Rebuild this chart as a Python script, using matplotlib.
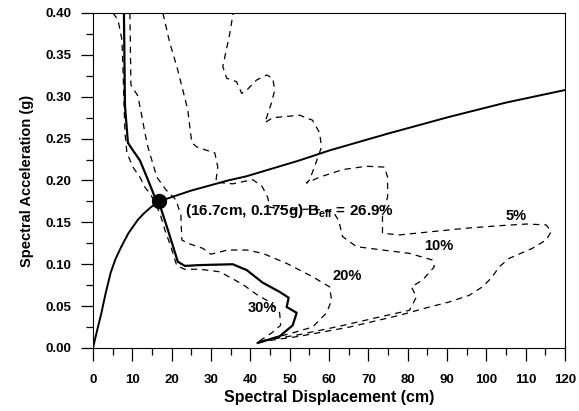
import matplotlib
matplotlib.use("Agg")
import matplotlib.pyplot as plt
from matplotlib.ticker import MultipleLocator

plt.rcParams['font.family'] = ['Liberation Sans', 'DejaVu Sans']
plt.rcParams['font.weight'] = 'bold'

# capacity spectrum (cm, g)
cap_d = [0, 1.0, 2.1, 3.2, 4.5, 5.7, 7.1, 9.0, 11.4, 13.0, 14.7, 16.7, 25.0, 34.3, 39.0, 52.5, 60.2, 75.0, 90.6, 105.0, 120.0]
cap_a = [0, 0.020, 0.041, 0.065, 0.090, 0.106, 0.120, 0.137, 0.153, 0.161, 0.168, 0.175, 0.188, 0.200, 0.205, 0.224, 0.236, 0.256, 0.276, 0.293, 0.308]

# demand spectrum at effective damping 26.9%
dem_d = [7.87, 8.12, 8.88, 10.15, 11.93, 13.96, 15.74, 16.7, 19.04, 21.57, 23.35, 27.16, 35.53,
         39.09, 43.15, 47.46, 49.75, 49.24, 51.78, 50.76, 47.46, 41.88]
dem_a = [0.400, 0.290, 0.245, 0.236, 0.224, 0.201, 0.180, 0.175, 0.141, 0.103, 0.098, 0.099, 0.100,
         0.093, 0.078, 0.067, 0.060, 0.049, 0.042, 0.027, 0.014, 0.006]

# demand spectra for fixed damping ratios
d30 = [5.08, 6.35, 7.36, 7.61, 7.87, 8.12, 8.63, 10.15, 11.93, 13.2, 14.72, 17.0, 18.27, 19.8, 21.32,
       23.35, 27.16, 32.23, 38.07, 41.88, 44.92, 47.46, 47.7, 45.43, 41.88]
a30 = [0.400, 0.392, 0.368, 0.336, 0.296, 0.257, 0.233, 0.216, 0.204, 0.192, 0.183, 0.161, 0.141, 0.121, 0.098,
       0.094, 0.094, 0.091, 0.076, 0.063, 0.055, 0.042, 0.027, 0.018, 0.007]

d20 = [9.39, 9.64, 11.42, 12.44, 13.2, 13.96, 14.97, 16.24, 18.53, 21.07, 22.34, 22.59, 24.11, 27.92, 29.95,
       34.26, 39.09, 43.15, 49.24, 55.84, 60.15, 60.66, 59.39, 55.84, 50.0, 44.16, 41.88]
a20 = [0.400, 0.314, 0.301, 0.276, 0.257, 0.240, 0.224, 0.204, 0.189, 0.177, 0.159, 0.129, 0.125, 0.119, 0.112,
       0.117, 0.117, 0.113, 0.101, 0.085, 0.073, 0.057, 0.042, 0.025, 0.017, 0.010, 0.007]

d10 = [17.77, 19.54, 21.32, 22.84, 24.11, 24.62, 25.13, 26.4, 28.93, 30.96, 31.73, 31.22, 35.5, 40.6,
       43.0, 44.4, 45.0, 50.0, 56.0, 61.0, 62.5, 63.45, 67.0, 73.6, 80.46, 86.29, 86.8, 83.76, 80.96,
       82.23, 80.46, 72.84, 62.69, 52.5, 44.92, 41.88]
a10 = [0.400, 0.364, 0.336, 0.308, 0.284, 0.264, 0.245, 0.240, 0.236, 0.233, 0.216, 0.198, 0.196, 0.201,
       0.193, 0.180, 0.168, 0.165, 0.166, 0.163, 0.152, 0.133, 0.121, 0.117, 0.113, 0.105, 0.097, 0.081, 0.073,
       0.061, 0.045, 0.037, 0.026, 0.016, 0.010, 0.007]

d5 = [35.8, 34.8, 33.5, 33.0, 34.0, 36.5, 37.8, 39.1, 41.6, 44.2, 45.7, 46.2, 45.4, 44.2, 43.7, 45.7, 48.2,
      52.5, 55.8, 57.6, 58.1, 56.9, 55.1, 54.3, 57.6, 63.5, 69.5, 74.1, 74.9, 74.9, 73.6, 73.6, 77.9, 86.3,
      94.9, 103.3, 110.2, 115.2, 116.5, 115.2, 111.7, 105.8, 103.3, 101.5, 100.3, 99.0, 95.7, 90.6, 84.8,
      77.9, 65.2, 52.5, 41.88]
a5 = [0.405, 0.376, 0.347, 0.336, 0.322, 0.318, 0.304, 0.308, 0.320, 0.326, 0.322, 0.308, 0.293, 0.276, 0.269,
      0.275, 0.276, 0.278, 0.272, 0.257, 0.240, 0.224, 0.201, 0.197, 0.204, 0.213, 0.217, 0.216, 0.204, 0.180,
      0.161, 0.137, 0.135, 0.139, 0.143, 0.146, 0.148, 0.147, 0.139, 0.129, 0.119, 0.107, 0.097, 0.085, 0.079,
      0.073, 0.063, 0.055, 0.048, 0.039, 0.025, 0.014, 0.007]

perf_d, perf_a, beta_eff = 16.7, 0.175, 26.9

labels = ['5%', '10%', '20%', '30%']
label_d = [107.6, 87.8, 64.5, 43.1]
label_a = [0.158, 0.122, 0.086, 0.048]

fig = plt.figure(figsize=(5.79, 4.11), dpi=100)
ax = fig.add_axes([0.1606, 0.1533, 0.8152, 0.8151])

dash = dict(color='black', lw=0.9, ls=(0, (5, 4)))
for d, a in [(d5, a5), (d10, a10), (d20, a20), (d30, a30)]:
    ax.plot(d, a, **dash)

ax.plot(dem_d, dem_a, color='black', lw=1.6)
ax.plot(cap_d, cap_a, color='black', lw=1.4)
ax.plot(perf_d, perf_a, 'o', color='black', ms=10)

ax.text(23.4, 0.164, '(%.1fcm, %.3fg) B$_{\\mathregular{eff}}$ = %.1f%%' % (perf_d, perf_a, beta_eff),
        fontsize=11, fontweight='bold', va='center', ha='left')
for t, x, y in zip(labels, label_d, label_a):
    ax.text(x, y, t, fontsize=10.5, fontweight='bold', ha='center', va='center')

ax.set_xlim(0, 120)
ax.set_ylim(0, 0.40)
ax.xaxis.set_major_locator(MultipleLocator(10))
ax.xaxis.set_minor_locator(MultipleLocator(5))
ax.yaxis.set_major_locator(MultipleLocator(0.05))
ax.yaxis.set_minor_locator(MultipleLocator(0.025))
ax.yaxis.set_major_formatter(plt.FormatStrFormatter('%.2f'))
ax.tick_params(which='major', direction='out', length=9, width=0.9, labelsize=9.5)
ax.tick_params(which='minor', direction='out', length=5, width=0.9)
ax.tick_params(axis='x', which='major', pad=9.5)
ax.tick_params(axis='y', which='major', pad=6.5)
for lab in ax.get_xticklabels() + ax.get_yticklabels():
    lab.set_fontweight('bold')

ax.set_xlabel('Spectral Displacement (cm)', fontsize=11.5, fontweight='bold', labelpad=3)
ax.set_ylabel('Spectral Acceleration (g)', fontsize=10.5, fontweight='bold', labelpad=8)

fig.savefig('out.png', dpi=100)
